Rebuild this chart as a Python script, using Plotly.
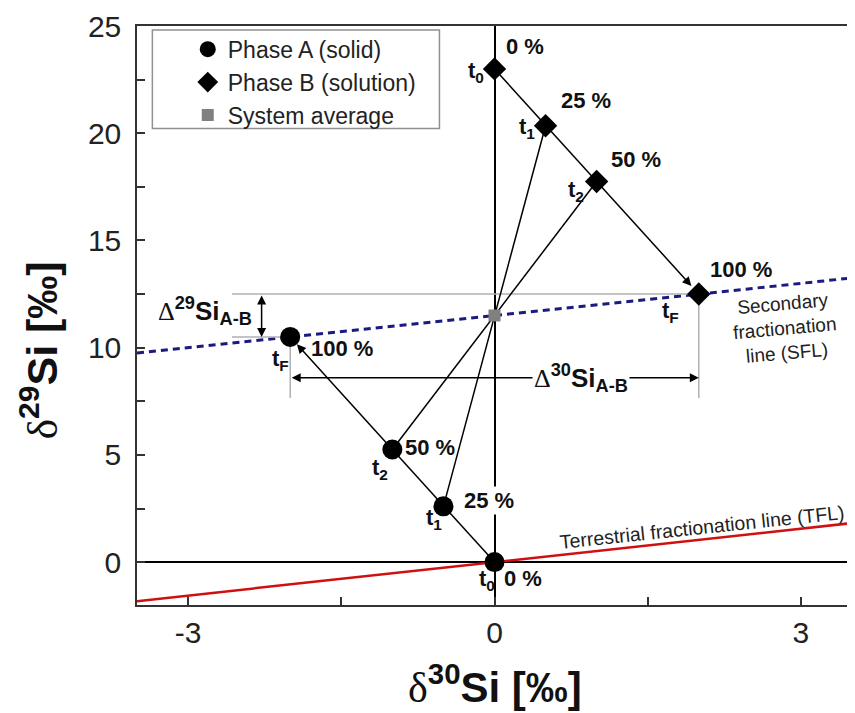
import plotly.graph_objects as go

# ---- data ----
phaseA_x = [0.0, -0.5, -1.0, -2.0]
phaseA_y = [0.0, 2.6, 5.25, 10.5]
phaseB_x = [0.0, 0.5, 1.0, 2.0]
phaseB_y = [23.0, 20.35, 17.75, 12.5]
avg_x = [0.0]
avg_y = [11.5]
stage_pct = ["0 %", "25 %", "50 %", "100 %"]
stage_t = ["t<sub>0</sub>", "t<sub>1</sub>", "t<sub>2</sub>", "t<sub>F</sub>"]
sfl_slope, sfl_icpt = 0.5, 11.5
tfl_slope, tfl_icpt = 0.52, 0.0
x_range = [-3.5, 3.5]
y_range = [-2, 25]
x_ticks = [-3, -1.5, 0, 1.5, 3]
x_ticktext = ["-3", "", "0", "", "3"]
y_ticks = [0, 2.5, 5, 7.5, 10, 12.5, 15, 17.5, 20, 22.5, 25]
y_ticktext = ["0", "", "5", "", "10", "", "15", "", "20", "", "25"]
d29_level_low, d29_level_high = phaseA_y[3], phaseB_y[3]
d30_arrow_y = 8.6
ref_drop_y = 7.65
d29_arrow_x = -2.28
ref_left_x = -2.57

SANS = "Liberation Sans, Arial, sans-serif"

fig = go.Figure()

# reference lines (SFL, TFL)
fig.add_trace(go.Scatter(x=x_range, y=[sfl_icpt + sfl_slope * v for v in x_range], mode="lines",
                         line=dict(color="#1a1a80", width=3, dash="7px,5px"), showlegend=False, hoverinfo="skip"))
fig.add_trace(go.Scatter(x=x_range, y=[tfl_icpt + tfl_slope * v for v in x_range], mode="lines",
                         line=dict(color="#d01010", width=2.5), showlegend=False, hoverinfo="skip"))

# gray guide lines
gray = "#b0b0b0"
fig.add_trace(go.Scatter(x=[ref_left_x, phaseB_x[3], None, ref_left_x, phaseA_x[3],
                            None, phaseA_x[3], phaseA_x[3], None, phaseB_x[3], phaseB_x[3]],
                         y=[d29_level_high, d29_level_high, None, d29_level_low, d29_level_low,
                            None, d29_level_low, ref_drop_y, None, d29_level_high, ref_drop_y],
                         mode="lines", line=dict(color=gray, width=1.5), showlegend=False, hoverinfo="skip"))

# tie lines through system average
for i in (1, 2):
    fig.add_trace(go.Scatter(x=[phaseA_x[i], phaseB_x[i]], y=[phaseA_y[i], phaseB_y[i]], mode="lines",
                             line=dict(color="black", width=1.5), showlegend=False, hoverinfo="skip"))

# paths t0 -> t2
fig.add_trace(go.Scatter(x=phaseA_x[:3], y=phaseA_y[:3], mode="lines",
                         line=dict(color="black", width=1.5), showlegend=False, hoverinfo="skip"))
fig.add_trace(go.Scatter(x=phaseB_x[:3], y=phaseB_y[:3], mode="lines",
                         line=dict(color="black", width=1.5), showlegend=False, hoverinfo="skip"))

# markers
fig.add_trace(go.Scatter(x=phaseA_x, y=phaseA_y, mode="markers", name="Phase A (solid)",
                         marker=dict(symbol="circle", size=20, color="black")))
fig.add_trace(go.Scatter(x=phaseB_x, y=phaseB_y, mode="markers", name="Phase B (solution)",
                         marker=dict(symbol="diamond", size=18, color="black")))
fig.add_trace(go.Scatter(x=avg_x, y=avg_y, mode="markers", name="System average",
                         marker=dict(symbol="square", size=12, color="#808080")))

ann = []
# arrows t2 -> tF
ann.append(dict(x=phaseA_x[3], y=phaseA_y[3], ax=phaseA_x[2], ay=phaseA_y[2], xref="x", yref="y",
                axref="x", ayref="y", showarrow=True, arrowhead=2, arrowsize=1.2, arrowwidth=1.5,
                arrowcolor="black", standoff=10, text=""))
ann.append(dict(x=phaseB_x[3], y=phaseB_y[3], ax=phaseB_x[2], ay=phaseB_y[2], xref="x", yref="y",
                axref="x", ayref="y", showarrow=True, arrowhead=2, arrowsize=1.2, arrowwidth=1.5,
                arrowcolor="black", standoff=11, text=""))
# double arrows
ann.append(dict(x=d29_arrow_x, y=d29_level_low, ax=d29_arrow_x, ay=d29_level_high, xref="x", yref="y",
                axref="x", ayref="y", showarrow=True, arrowhead=2, arrowside="end+start", arrowsize=1.2,
                arrowwidth=1.5, arrowcolor="black", text=""))
ann.append(dict(x=phaseB_x[3], y=d30_arrow_y, ax=phaseA_x[3], ay=d30_arrow_y, xref="x", yref="y",
                axref="x", ayref="y", showarrow=True, arrowhead=2, arrowside="end+start", arrowsize=1.2,
                arrowwidth=1.5, arrowcolor="black", text=""))

lab_font = dict(family=SANS, size=22, color="#111")
b_pct_shift = [(30, 22), (40, 25), (39, 22), (42, 25)]
b_t_shift = [(-19, -3), (-19, -2), (-21, -10), (-28, -18)]
a_pct_shift = [(28, -16), (46, 6), (38, 2), (52, -12)]
a_t_shift = [(-8, -18), (-9, -13), (-12, -19), (-10, -23)]
for i in range(4):
    ann.append(dict(x=phaseB_x[i], y=phaseB_y[i], xref="x", yref="y", showarrow=False,
                    text="<b>" + stage_pct[i] + "</b>", font=lab_font,
                    xshift=b_pct_shift[i][0], yshift=b_pct_shift[i][1]))
    ann.append(dict(x=phaseB_x[i], y=phaseB_y[i], xref="x", yref="y", showarrow=False,
                    text="<b>" + stage_t[i] + "</b>", font=lab_font,
                    xshift=b_t_shift[i][0], yshift=b_t_shift[i][1]))
    ann.append(dict(x=phaseA_x[i], y=phaseA_y[i], xref="x", yref="y", showarrow=False,
                    text="<b>" + stage_pct[i] + "</b>", font=lab_font,
                    bgcolor="white" if i == 1 else None,
                    xshift=a_pct_shift[i][0], yshift=a_pct_shift[i][1]))
    ann.append(dict(x=phaseA_x[i], y=phaseA_y[i], xref="x", yref="y", showarrow=False,
                    text="<b>" + stage_t[i] + "</b>", font=lab_font,
                    xshift=a_t_shift[i][0], yshift=a_t_shift[i][1]))

delta_span = "<span style='font-family:Liberation Serif, Times New Roman, serif;font-weight:normal'>Δ</span>"
ann.append(dict(x=-2.83, y=11.7, xref="x", yref="y", showarrow=False,
                text=delta_span + "<b><sup>29</sup>Si<sub>A-B</sub></b>",
                font=dict(family=SANS, size=26, color="#111")))
ann.append(dict(x=0.85, y=d30_arrow_y, xref="x", yref="y", showarrow=False, bgcolor="white",
                text=delta_span + "<b><sup>30</sup>Si<sub>A-B</sub></b>",
                font=dict(family=SANS, size=26, color="#111")))

ann.append(dict(x=2.84, y=10.93, xref="x", yref="y", showarrow=False, textangle=-5,
                text="Secondary<br>fractionation<br>line (SFL)",
                font=dict(family=SANS, size=19, color="#222")))
ann.append(dict(x=2.03, y=1.63, xref="x", yref="y", showarrow=False, textangle=-6,
                text="Terrestrial fractionation line (TFL)",
                font=dict(family=SANS, size=19.5, color="#222")))

# axis titles
dspan = "<span style='font-family:Liberation Serif, Times New Roman, serif;font-weight:normal'>δ</span>"
ann.append(dict(x=0.5, y=-0.136, xref="paper", yref="paper", showarrow=False, yanchor="middle",
                text=dspan + "<b><sup>30</sup>Si [‰]</b>", font=dict(family=SANS, size=42, color="#111")))
ann.append(dict(x=-0.137, y=0.44, xref="paper", yref="paper", showarrow=False, textangle=-90,
                xanchor="center", yanchor="middle",
                text=dspan + "<b><sup>29</sup>Si [‰]</b>", font=dict(family=SANS, size=43, color="#111")))

# page body adds an 8px offset; figure sized to fit the 855x713 window
fig.update_layout(
    width=847, height=705,
    margin=dict(l=129, r=1, t=18, b=108),
    paper_bgcolor="white", plot_bgcolor="white",
    annotations=ann,
    shapes=[dict(type="rect", xref="paper", yref="paper", x0=0.0215, x1=0.423, y0=0.823, y1=0.993,
                 line=dict(color="#909090", width=1.5), fillcolor="rgba(0,0,0,0)")],
    legend=dict(x=0.071, y=0.997, xanchor="left", yanchor="top", bgcolor="rgba(0,0,0,0)",
                font=dict(family=SANS, size=23, color="#222"), itemsizing="trace"),
    xaxis=dict(range=x_range, tickvals=x_ticks, ticktext=x_ticktext, ticks="inside", ticklen=8,
               tickwidth=1.5, tickcolor="#333", showgrid=False, zeroline=True, zerolinecolor="black",
               zerolinewidth=1.5, showline=True, linecolor="#333", linewidth=1.5, mirror=True,
               tickfont=dict(family=SANS, size=30, color="#222")),
    yaxis=dict(range=y_range, tickvals=y_ticks, ticktext=y_ticktext, ticks="inside", ticklen=8,
               tickwidth=1.5, tickcolor="#333", showgrid=False, zeroline=True, zerolinecolor="black",
               zerolinewidth=1.5, showline=True, linecolor="#333", linewidth=1.5, mirror=True,
               tickfont=dict(family=SANS, size=30, color="#222"), ticklabelstandoff=8),
)

fig.write_html("out.html")
